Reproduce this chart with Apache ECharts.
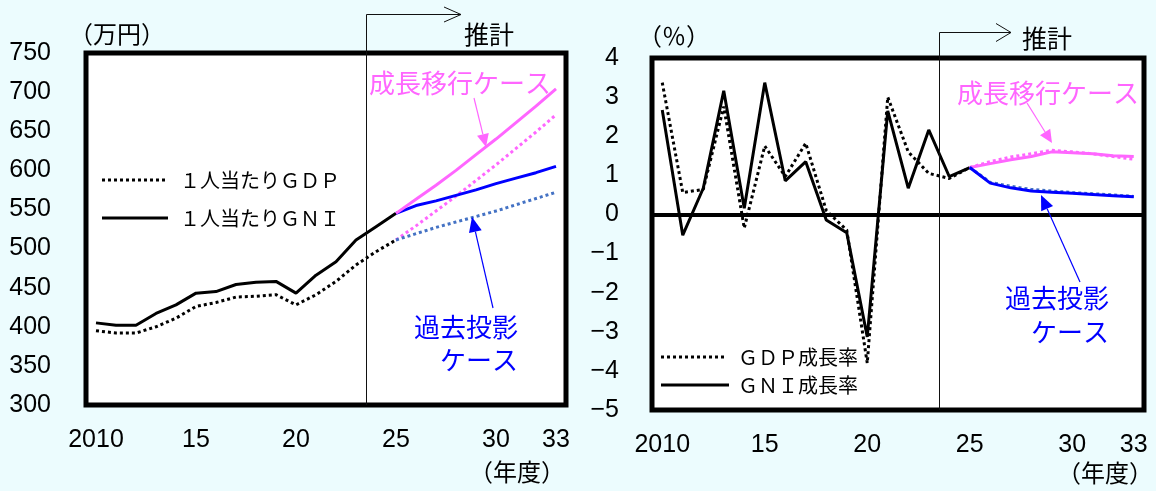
<!DOCTYPE html>
<html><head><meta charset="utf-8">
<script src="https://cdn.jsdelivr.net/npm/echarts@6/dist/echarts.min.js"></script>
<style>html,body{margin:0;padding:0;background:#ECFCFE;}#c{width:1156px;height:491px;}</style>
</head><body><div id="c"></div>
<script>
// ---- data ----
const histYears = [2010,2011,2012,2013,2014,2015,2016,2017,2018,2019,2020,2021,2022,2023,2024,2025];
const projYears = [2025,2026,2027,2028,2029,2030,2031,2032,2033];
const xTickYears = [2010,2015,2020,2025,2030,2033];
// per-capita level (万円)
const gdpPerCapita = [395,392,392,400,411,426,431,438,439,441,428,441,458,479,496,511];
const gniPerCapita = [405,402,402,417,428,443,445,454,457,458,443,466,483,511,528,545];
const gniGrowthCase = [545,563,581,600,620,640,661,682,704];
const gdpGrowthCase = [511,529,548,567,587,607,628,649,671];
const gniBaseCase = [545,555,561,568,575,583,590,597,605];
const gdpBaseCase = [511,519,527,534,541,548,556,564,572];
// growth rates (%)
const gdpRate = [3.37,0.56,0.64,2.76,-0.35,1.75,0.97,1.82,0.10,-0.40,-3.80,3.00,1.60,1.05,0.92,1.20];
const gniRate = [2.67,-0.53,0.67,3.16,0.16,3.37,0.86,1.35,-0.14,-0.47,-3.13,2.65,0.67,2.16,0.97,1.20];
const gniRateGrowthCase = [1.20,1.30,1.40,1.48,1.60,1.58,1.55,1.50,1.48];
const gdpRateGrowthCase = [1.20,1.35,1.47,1.55,1.64,1.60,1.55,1.48,1.41];
const gniRateBaseCase = [1.20,0.80,0.68,0.60,0.57,0.54,0.51,0.48,0.45];
const gdpRateBaseCase = [1.20,0.82,0.72,0.64,0.60,0.56,0.53,0.50,0.46];
const estimateStart = 2023.5;

const zip = (xs, ys) => xs.map((x, i) => [x, ys[i]]);
const MAG = '#FF66FF', BLUE = '#0000FF', BLUE_D = '#4472C4';
const NUMFONT = 'Liberation Sans';
const JP = '"Noto Sans CJK JP"';
const DOT = [3, 3];

const chart = echarts.init(document.getElementById('c'), null, {renderer: 'canvas'});

function xAx(gi) {
  return {
    type: 'value', gridIndex: gi, min: 2009.5, max: 2033.5,
    axisLine: {show: false}, axisTick: {show: false}, splitLine: {show: false},
    axisLabel: {
      customValues: xTickYears, color: '#000', fontSize: 25, fontFamily: NUMFONT, margin: 23,
      formatter: v => (v === 2010 ? '2010' : String(v % 100))
    }
  };
}
function line(name, gi, data, color, dotted, z) {
  return {
    name, type: 'line', xAxisIndex: gi, yAxisIndex: gi, data, showSymbol: false,
    lineStyle: {color, width: 3, type: dotted ? DOT : 'solid', cap: 'butt'},
    z: z || 2, silent: true
  };
}

chart.setOption({
  animation: false,
  backgroundColor: '#ECFCFE',
  grid: [
    {left: 86, top: 53, width: 480, height: 352, show: true, borderColor: '#000', borderWidth: 5, backgroundColor: '#fff'},
    {left: 652, top: 58, width: 492, height: 352, show: true, borderColor: '#000', borderWidth: 5, backgroundColor: '#fff'}
  ],
  xAxis: [xAx(0), xAx(1)],
  yAxis: [
    {type: 'value', gridIndex: 0, min: 300, max: 750, interval: 50,
     axisLine: {show: false}, axisTick: {show: false}, splitLine: {show: false},
     axisLabel: {color: '#000', fontSize: 25, fontFamily: NUMFONT, margin: 35}},
    {type: 'value', gridIndex: 1, min: -5, max: 4, interval: 1,
     axisLine: {show: false}, axisTick: {show: false}, splitLine: {show: false},
     axisLabel: {color: '#000', fontSize: 25, fontFamily: NUMFONT, margin: 33,
       formatter: v => (v < 0 ? '\u2212' + Math.abs(v) : String(v))}}
  ],
  series: [
    line('1人当たりGDP', 0, zip(histYears, gdpPerCapita), '#000', true),
    line('1人当たりGNI', 0, zip(histYears, gniPerCapita), '#000', false),
    line('GDP成長移行', 0, zip(projYears, gdpGrowthCase), MAG, true, 3),
    line('GDP過去投影', 0, zip(projYears, gdpBaseCase), BLUE_D, true, 3),
    line('GNI過去投影', 0, zip(projYears, gniBaseCase), BLUE, false, 3),
    line('GNI成長移行', 0, zip(projYears, gniGrowthCase), MAG, false, 3),
    Object.assign(line('GDP成長率', 1, zip(histYears, gdpRate), '#000', true), {
      markLine: {silent: true, symbol: 'none', label: {show: false}, animation: false,
        lineStyle: {color: '#000', width: 4, type: 'solid'}, data: [{yAxis: 0}]}
    }),
    line('GNI成長率', 1, zip(histYears, gniRate), '#000', false),
    line('GDP成長移行率', 1, zip(projYears, gdpRateGrowthCase), MAG, true, 3),
    line('GNI成長移行率', 1, zip(projYears, gniRateGrowthCase), MAG, false, 3),
    line('GDP過去投影率', 1, zip(projYears, gdpRateBaseCase), BLUE_D, true, 3),
    line('GNI過去投影率', 1, zip(projYears, gniRateBaseCase), BLUE, false, 3)
  ]
});

// ---- annotations ----
function txt(text, x, y, size, color, align) {
  return {type: 'text', z: 50, silent: true,
    style: {text, x, y, fill: color || '#000', font: size + 'px ' + JP,
      textAlign: align || 'center', textVerticalAlign: 'middle', align: align || 'center', verticalAlign: 'middle'}};
}
function seg(x1, y1, x2, y2, color, width, dash) {
  return {type: 'line', z: 50, silent: true, shape: {x1, y1, x2, y2},
    style: {stroke: color, lineWidth: width, lineDash: dash || null}};
}
function filledArrow(x1, y1, x2, y2, color, hl, hw) {
  const dx = x2 - x1, dy = y2 - y1, L = Math.hypot(dx, dy), ux = dx / L, uy = dy / L;
  const bx = x2 - ux * hl, by = y2 - uy * hl, px = -uy * hw / 2, py = ux * hw / 2;
  return [seg(x1, y1, bx, by, color, 1.2),
    {type: 'polygon', z: 50, silent: true, shape: {points: [[x2, y2], [bx + px, by + py], [bx - px, by - py]]}, style: {fill: color}}];
}
function estimateMarker(gi, yTop, xEnd, hl, hw) {
  const x = Math.round(chart.convertToPixel({xAxisIndex: gi}, estimateStart)) + 0.5;
  const yBot = chart.convertToPixel({yAxisIndex: gi}, gi === 0 ? 300 : -5);
  const yt = yTop + 0.5;
  return [
    seg(x, yt, x, yBot, '#111', 1),
    seg(x, yt, xEnd, yt, '#111', 1),
    {type: 'polyline', z: 50, silent: true, shape: {points: [[xEnd - hl, yt - hw], [xEnd, yt], [xEnd - hl, yt + hw]]},
      style: {stroke: '#111', lineWidth: 1, fill: null}}
  ];
}

const g = [];
// left chart
g.push(...estimateMarker(0, 14, 461, 17, 7.5));
g.push(txt('推計', 489, 34, 25));
g.push(txt('（万円）', 117, 34, 24));
g.push(txt('（年度）', 517, 472, 24));
g.push(txt('成長移行ケース', 460, 83, 26, MAG));
g.push(...filledArrow(474, 98, 486, 147, MAG, 13, 12));
g.push(txt('過去投影', 518, 327, 26, BLUE, 'right'));
g.push(txt('ケース', 518, 360, 26, BLUE, 'right'));
g.push(...filledArrow(493, 308, 472, 217, BLUE, 15, 13));
g.push(seg(102, 180, 168, 180, '#000', 3, DOT));
g.push(seg(102, 218, 168, 218, '#000', 3));
g.push(txt('１人当たりＧＤＰ', 180, 180, 20, '#000', 'left'));
g.push(txt('１人当たりＧＮＩ', 180, 218, 20, '#000', 'left'));
// right chart
g.push(...estimateMarker(1, 32, 1011, 15, 9));
g.push(txt('推計', 1047, 38, 25));
g.push(txt('（％）', 674, 36, 24));
g.push(txt('（年度）', 1105, 473, 24));
g.push(txt('成長移行ケース', 1048, 93, 26, MAG));
g.push(...filledArrow(1027, 103, 1052, 143, MAG, 13, 12));
g.push(txt('過去投影', 1109, 298, 26, BLUE, 'right'));
g.push(txt('ケース', 1109, 332, 26, BLUE, 'right'));
g.push(...filledArrow(1080, 282, 1041, 195, BLUE, 15, 13));
g.push(seg(661, 357, 726, 357, '#000', 3, DOT));
g.push(seg(661, 385, 729, 385, '#000', 3));
g.push(txt('ＧＤＰ成長率', 738, 357, 20, '#000', 'left'));
g.push(txt('ＧＮＩ成長率', 738, 385, 20, '#000', 'left'));

chart.setOption({graphic: {elements: g}});
</script>
</body></html>
